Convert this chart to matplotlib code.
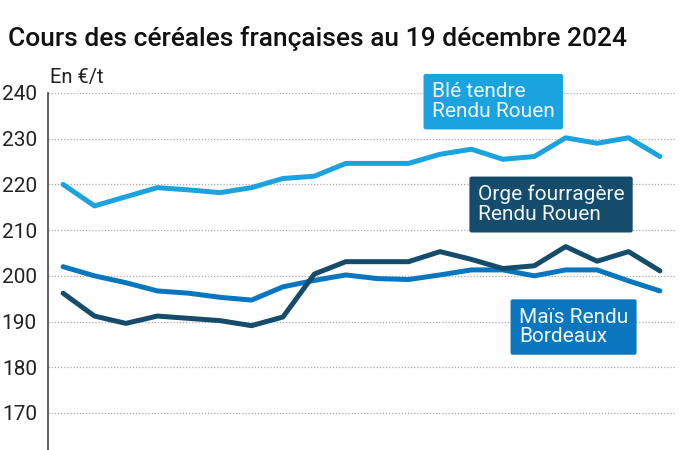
import numpy as np
import matplotlib
matplotlib.use("Agg")
import matplotlib.pyplot as plt

plt.rcParams["font.family"] = ["Roboto", "DejaVu Sans"]

# --- data (EUR/t, 20 quotations) ---
ble_rouen = [220, 215.3, 217.3, 219.3, 218.8, 218.2, 219.3, 221.3, 221.8, 224.6,
             224.6, 224.6, 226.6, 227.7, 225.5, 226.1, 230.2, 229.0, 230.2, 226.1]
orge_rouen = [196.2, 191.2, 189.6, 191.2, 190.7, 190.2, 189.1, 191.0, 200.4, 203.1,
              203.1, 203.1, 205.3, 203.6, 201.6, 202.2, 206.4, 203.2, 205.3, 201.1]
mais_bordeaux = [202.0, 200.0, 198.5, 196.7, 196.2, 195.3, 194.7, 197.6, 199.0, 200.2,
                 199.4, 199.2, 200.2, 201.3, 201.3, 200.0, 201.3, 201.3, 198.9, 196.7]
y_ticks = [170, 180, 190, 200, 210, 220, 230, 240]

series = [
    ("Blé tendre\nRendu Rouen", ble_rouen, "#1ba3e0", (11.74, 238.1)),
    ("Orge fourragère\nRendu Rouen", orge_rouen, "#154c6b", (13.2, 215.6)),
    ("Maïs Rendu\nBordeaux", mais_bordeaux, "#0a76bf", (14.51, 188.8)),
]

fig = plt.figure(figsize=(7, 4.5), dpi=100)
ax = fig.add_axes([48 / 700, 0, 627 / 700, 357 / 450])

x = np.arange(len(ble_rouen))
# draw order: maize, barley, wheat
for name, vals, col, _ in [series[2], series[1], series[0]]:
    ax.plot(x, vals, color=col, linewidth=3.6, solid_capstyle="round",
            solid_joinstyle="round", zorder=3)

for name, vals, col, (tx, ty) in series:
    ax.text(tx, ty, name, color="#eef6fb", fontsize=15, ha="left", va="center",
            linespacing=1.05, zorder=5,
            bbox=dict(boxstyle="round,pad=0.4,rounding_size=0.1", fc=col, ec="none"))

ax.set_xlim(-0.48, 19.48)
ax.set_ylim(161.9, 240)
ax.set_yticks(y_ticks)
ax.set_yticklabels([str(v) for v in y_ticks])
ax.tick_params(axis="y", length=0, pad=8, labelsize=15, labelcolor="#222222")
ax.set_xticks([])
ax.grid(axis="y", color="#aaaaaa", linestyle=(0, (1, 1.5)), linewidth=0.9, zorder=0)
for s in ["top", "right", "bottom"]:
    ax.spines[s].set_visible(False)
ax.spines["left"].set_color("#444444")
ax.spines["left"].set_linewidth(1.2)

fig.text(50 / 700, 1 - 78 / 450, "En €/t", fontsize=14.5, color="#222222",
         ha="left", va="center")
fig.text(8 / 700, 1 - 46 / 450, "Cours des céréales françaises au 19 décembre 2024",
         fontsize=19, fontweight="medium", color="#111111", ha="left", va="baseline")

fig.savefig("out.png", dpi=100)
